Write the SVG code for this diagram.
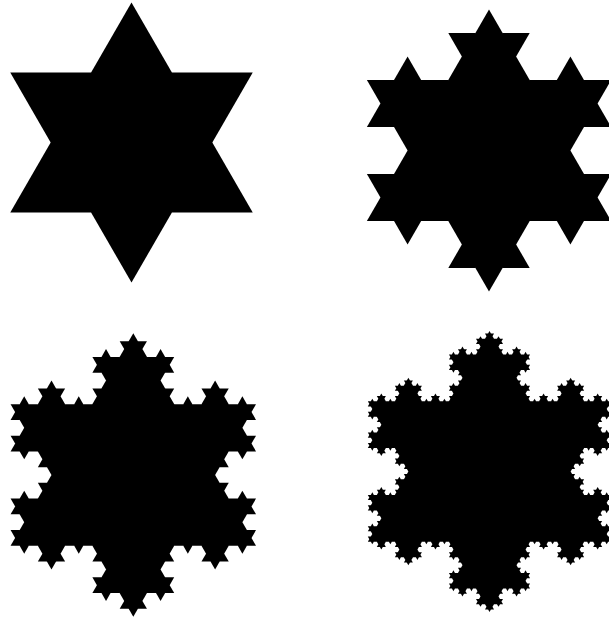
<svg xmlns="http://www.w3.org/2000/svg" width="609" height="619" viewBox="0 0 609 619">
<style>
.k{fill:#000;stroke:none}
</style>
<defs>
<polygon id="b1" points="0.3333333,0 0.5,-0.2886751 0.6666667,0 0.5,0.2886751"/>
<g id="b2"><use href="#b1"/><use href="#b1" transform="scale(0.3333333)"/><use href="#b1" transform="translate(0.3333333,0) rotate(-60) scale(0.3333333)"/><use href="#b1" transform="translate(0.5,-0.2886751) rotate(60) scale(0.3333333)"/><use href="#b1" transform="translate(0.6666667,0) scale(0.3333333)"/></g>
<g id="b3"><use href="#b1"/><use href="#b2" transform="scale(0.3333333)"/><use href="#b2" transform="translate(0.3333333,0) rotate(-60) scale(0.3333333)"/><use href="#b2" transform="translate(0.5,-0.2886751) rotate(60) scale(0.3333333)"/><use href="#b2" transform="translate(0.6666667,0) scale(0.3333333)"/></g>
<g id="b4"><use href="#b1"/><use href="#b3" transform="scale(0.3333333)"/><use href="#b3" transform="translate(0.3333333,0) rotate(-60) scale(0.3333333)"/><use href="#b3" transform="translate(0.5,-0.2886751) rotate(60) scale(0.3333333)"/><use href="#b3" transform="translate(0.6666667,0) scale(0.3333333)"/></g>
<polygon id="tri" points="0,-1 0.8660254,0.5 -0.8660254,0.5"/>
</defs>
<rect width="609" height="619" fill="#fff"/>
<g id="snowflake-1" class="k" transform="translate(131.5,142.5) scale(140)">
<use href="#tri"/>
<use href="#b1" transform="translate(0,-1) rotate(60) scale(1.7320508)"/>
<use href="#b1" transform="translate(0.8660254,0.5) rotate(180) scale(1.7320508)"/>
<use href="#b1" transform="translate(-0.8660254,0.5) rotate(-60) scale(1.7320508)"/>
</g>
<g id="snowflake-2" class="k" transform="translate(489,150.5) scale(141)">
<use href="#tri"/>
<use href="#b2" transform="translate(0,-1) rotate(60) scale(1.7320508)"/>
<use href="#b2" transform="translate(0.8660254,0.5) rotate(180) scale(1.7320508)"/>
<use href="#b2" transform="translate(-0.8660254,0.5) rotate(-60) scale(1.7320508)"/>
</g>
<g id="snowflake-3" class="k" transform="translate(133.3,475) scale(141.7)">
<use href="#tri"/>
<use href="#b3" transform="translate(0,-1) rotate(60) scale(1.7320508)"/>
<use href="#b3" transform="translate(0.8660254,0.5) rotate(180) scale(1.7320508)"/>
<use href="#b3" transform="translate(-0.8660254,0.5) rotate(-60) scale(1.7320508)"/>
</g>
<g id="snowflake-4" class="k" transform="translate(489.5,471.5) scale(140.5)">
<use href="#tri"/>
<use href="#b4" transform="translate(0,-1) rotate(60) scale(1.7320508)"/>
<use href="#b4" transform="translate(0.8660254,0.5) rotate(180) scale(1.7320508)"/>
<use href="#b4" transform="translate(-0.8660254,0.5) rotate(-60) scale(1.7320508)"/>
</g>
</svg>
